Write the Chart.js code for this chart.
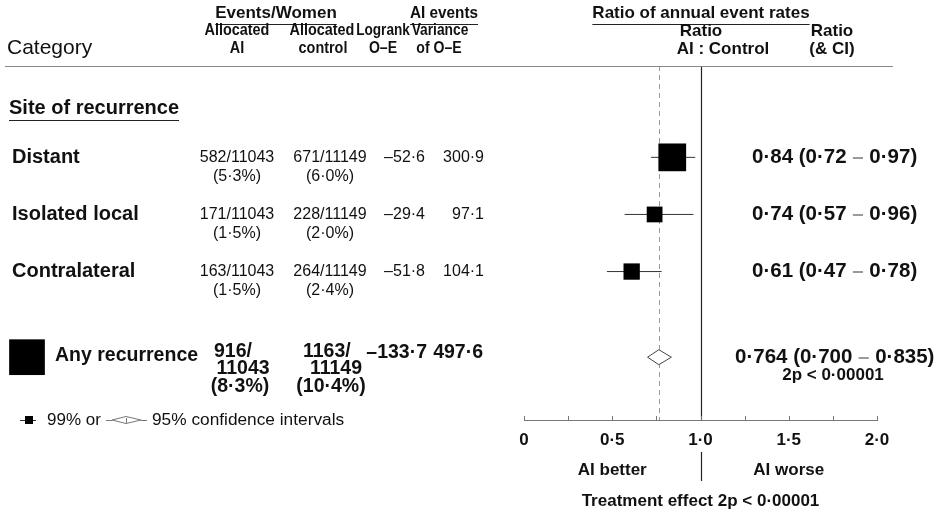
<!DOCTYPE html>
<html>
<head>
<meta charset="utf-8">
<script src="https://cdn.jsdelivr.net/npm/chart.js@4.4.1/dist/chart.umd.min.js"></script>
<style>
  html, body { margin: 0; padding: 0; background: #fff; }
  #wrap { width: 935px; height: 510px; position: relative; }
</style>
</head>
<body>
<div id="wrap"><canvas id="forest" width="935" height="510"></canvas></div>
<script>
// ---- Data: site of recurrence, AI vs control ----
const categories = ['Distant', 'Isolated local', 'Contralateral'];
const aiEvents = [582, 171, 163];
const aiWomen = [11043, 11043, 11043];
const controlEvents = [671, 228, 264];
const controlWomen = [11149, 11149, 11149];
const logrankOE = [-52.6, -29.4, -51.8];
const varianceOE = [300.9, 97.1, 104.1];
const ratio = [0.84, 0.74, 0.61];
const ciLow = [0.72, 0.57, 0.47];
const ciHigh = [0.97, 0.96, 0.78];
const rowPos = [1, 2, 3];

// Overall row
const totalLabel = ['Any recurrence'];
const totalAiEvents = [916];
const totalAiWomen = [11043];
const totalControlEvents = [1163];
const totalControlWomen = [11149];
const totalLogrankOE = [-133.7];
const totalVarianceOE = [497.6];
const totalRatio = [0.764];
const totalLow = [0.700];
const totalHigh = [0.835];
const totalPos = [4.5];
const totalP = ['2p < 0·00001'];
const treatmentP = ['Treatment effect 2p < 0·00001'];

// Axis
const xTickValues = [0, 0.5, 1, 1.5, 2];
const xTickLabels = ['0', '0·5', '1·0', '1·5', '2·0'];

// ---- helpers ----
const FAMILY = '"Liberation Sans", Arial, Helvetica, sans-serif';
const dot = (v, d) => Math.abs(v).toFixed(d).replace('.', '·');
const signed = (v, d) => (v < 0 ? '–' : '') + dot(v, d);
const pct = (e, n) => '(' + dot(100 * e / n, 1) + '%)';
const SQUARE_K = 1.6; // square side grows with sqrt(variance)

// draws text (optionally condensed horizontally by sx) and returns its width
function txt(ctx, s, x, y, o = {}) {
  const size = o.size || 16, weight = o.weight || 'normal', sx = o.sx || 1;
  ctx.save();
  ctx.font = `${weight} ${size}px ${FAMILY}`;
  ctx.fillStyle = o.color || '#111';
  ctx.textAlign = o.align || 'left';
  ctx.textBaseline = 'middle';
  ctx.translate(x, y);
  ctx.scale(sx, 1);
  ctx.fillText(s, 0, 0);
  const w = ctx.measureText(s).width * sx;
  ctx.restore();
  if (o.underline) {
    let x0 = x;
    const al = o.align || 'left';
    if (al === 'center') x0 = x - w / 2;
    else if (al === 'right') x0 = x - w;
    const uy = Math.round(y + size * 0.62) + 0.5;
    line(ctx, x0, uy, x0 + w, uy, '#222', 1);
  }
  return w;
}

// ratio text with a light dash between the limits
function ciText(ctx, r, lo, hi, d, x, y, size) {
  const opt = { size: size, weight: 'bold' };
  let cx = x;
  cx += txt(ctx, dot(r, d) + ' (' + dot(lo, d) + ' ', cx, y, opt);
  cx += txt(ctx, '–', cx, y, Object.assign({}, opt, { color: '#9a9a9a' }));
  txt(ctx, ' ' + dot(hi, d) + ')', cx, y, opt);
}

function line(ctx, x1, y1, x2, y2, color, w, dash) {
  ctx.save();
  ctx.strokeStyle = color;
  ctx.lineWidth = w;
  if (dash) ctx.setLineDash(dash);
  ctx.beginPath();
  ctx.moveTo(x1, y1);
  ctx.lineTo(x2, y2);
  ctx.stroke();
  ctx.restore();
}

// ---- plugin: reference lines, diamond, ticks, table text ----
const forestDecor = {
  id: 'forestDecor',
  beforeDatasetsDraw(chart) {
    const { ctx, chartArea: a, scales: { x } } = chart;
    const xo = Math.round(x.getPixelForValue(totalRatio[0])) + 0.5;
    line(ctx, xo, a.top, xo, a.bottom, '#9a9a9a', 1, [5, 4]);
    const x1 = Math.round(x.getPixelForValue(1)) + 0.5;
    line(ctx, x1, a.top, x1, a.bottom, '#222', 1.2);
  },
  afterDatasetsDraw(chart) {
    const { ctx, chartArea: a, scales: { x, y } } = chart;

    // overall diamond
    const yd = y.getPixelForValue(totalPos[0]);
    const xl = x.getPixelForValue(totalLow[0]);
    const xh = x.getPixelForValue(totalHigh[0]);
    const xm = x.getPixelForValue(totalRatio[0]);
    ctx.save();
    ctx.fillStyle = '#fff';
    ctx.strokeStyle = '#444';
    ctx.lineWidth = 1;
    ctx.beginPath();
    ctx.moveTo(xl, yd);
    ctx.lineTo(xm, yd - 7.5);
    ctx.lineTo(xh, yd);
    ctx.lineTo(xm, yd + 7.5);
    ctx.closePath();
    ctx.fill();
    ctx.stroke();
    ctx.restore();

    // small upward ticks on the axis
    x.ticks.forEach(t => {
      const px = Math.round(x.getPixelForValue(t.value)) + 0.5;
      line(ctx, px, a.bottom - 4, px, a.bottom, '#777', 1);
    });
  },
  afterDraw(chart) {
    const { ctx, chartArea: a, scales: { x, y } } = chart;

    // header
    const H = { size: 17, weight: 'bold', align: 'center' };
    const hc = sx => Object.assign({}, H, { size: 16, sx: sx });
    txt(ctx, 'Events/Women', 276, 13, Object.assign({ underline: true }, H));
    txt(ctx, 'AI events', 444, 13, Object.assign({ underline: true, sx: 0.9 }, H));
    txt(ctx, 'Ratio of annual event rates', 701, 13, Object.assign({ underline: true }, H));
    txt(ctx, 'Allocated', 237, 31, hc(0.9));
    txt(ctx, 'AI', 237, 49, hc(0.9));
    txt(ctx, 'Allocated', 322, 31, hc(0.9));
    txt(ctx, 'control', 323, 49, hc(0.9));
    txt(ctx, 'Logrank', 383, 31, hc(0.85));
    txt(ctx, 'O–E', 383, 49, hc(0.88));
    txt(ctx, 'Variance', 440, 31, hc(0.86));
    txt(ctx, 'of O–E', 439, 49, hc(0.88));
    txt(ctx, 'Ratio', 701, 31, H);
    txt(ctx, 'AI : Control', 723, 49, H);
    txt(ctx, 'Ratio', 832, 31, H);
    txt(ctx, '(& CI)', 832, 49, H);
    txt(ctx, 'Category', 7, 48, { size: 21 });
    line(ctx, 5, a.top + 0.5, 893, a.top + 0.5, '#888', 1);

    // section heading
    txt(ctx, 'Site of recurrence', 9, 108, { size: 20, weight: 'bold', underline: true });

    // subgroup rows
    categories.forEach((c, i) => {
      const py = y.getPixelForValue(rowPos[i]);
      txt(ctx, c, 12, py, { size: 20, weight: 'bold' });
      txt(ctx, aiEvents[i] + '/' + aiWomen[i], 237, py, { size: 16, align: 'center' });
      txt(ctx, pct(aiEvents[i], aiWomen[i]), 237, py + 19, { size: 16, align: 'center' });
      txt(ctx, controlEvents[i] + '/' + controlWomen[i], 330, py, { size: 16, align: 'center' });
      txt(ctx, pct(controlEvents[i], controlWomen[i]), 330, py + 19, { size: 16, align: 'center' });
      txt(ctx, signed(logrankOE[i], 1), 425, py, { size: 16, align: 'right' });
      txt(ctx, dot(varianceOE[i], 1), 484, py, { size: 16, align: 'right' });
      ciText(ctx, ratio[i], ciLow[i], ciHigh[i], 2, 752, py, 20.5);
    });

    // overall row
    const ty = y.getPixelForValue(totalPos[0]);
    const side = SQUARE_K * Math.sqrt(totalVarianceOE[0]);
    ctx.fillStyle = '#000';
    ctx.fillRect(27 - side / 2, ty - side / 2, side, side);
    const B = { size: 19.5, weight: 'bold' };
    txt(ctx, totalLabel[0], 55, ty - 2, B);
    txt(ctx, totalAiEvents[0] + '/', 214, ty - 6, B);
    txt(ctx, String(totalAiWomen[0]), 243, ty + 11, Object.assign({ align: 'center' }, B));
    txt(ctx, pct(totalAiEvents[0], totalAiWomen[0]), 240, ty + 29, Object.assign({ align: 'center' }, B));
    txt(ctx, totalControlEvents[0] + '/', 303, ty - 6, B);
    txt(ctx, String(totalControlWomen[0]), 336, ty + 11, Object.assign({ align: 'center' }, B));
    txt(ctx, pct(totalControlEvents[0], totalControlWomen[0]), 331, ty + 29, Object.assign({ align: 'center' }, B));
    txt(ctx, signed(totalLogrankOE[0], 1), 427, ty - 5, Object.assign({ align: 'right' }, B));
    txt(ctx, dot(totalVarianceOE[0], 1), 483, ty - 5, Object.assign({ align: 'right' }, B));
    ciText(ctx, totalRatio[0], totalLow[0], totalHigh[0], 3, 735, ty, 20.5);
    txt(ctx, totalP[0], 833, ty + 18, { size: 17, weight: 'bold', align: 'center' });

    // key
    const ky = a.bottom;
    line(ctx, 20, ky + 0.5, 36, ky + 0.5, '#333', 1);
    ctx.fillStyle = '#000';
    ctx.fillRect(25, ky - 4, 8, 8);
    txt(ctx, '99% or', 47, ky, { size: 17 });
    line(ctx, 106, ky + 0.5, 112, ky + 0.5, '#777', 1);
    line(ctx, 141, ky + 0.5, 147, ky + 0.5, '#777', 1);
    line(ctx, 126.5, ky - 2, 126.5, ky + 3, '#777', 1);
    ctx.save();
    ctx.strokeStyle = '#777';
    ctx.lineWidth = 1;
    ctx.beginPath();
    ctx.moveTo(112, ky);
    ctx.lineTo(126, ky - 3.5);
    ctx.lineTo(141, ky);
    ctx.lineTo(126, ky + 3.5);
    ctx.closePath();
    ctx.stroke();
    ctx.restore();
    txt(ctx, '95% confidence intervals', 152, ky, { size: 17.3 });

    // below the axis
    const x1 = Math.round(x.getPixelForValue(1)) + 0.5;
    line(ctx, x1, 452, x1, 481, '#222', 1.2);
    txt(ctx, 'AI better', x.getPixelForValue(0.5), 470, { size: 17, weight: 'bold', align: 'center' });
    txt(ctx, 'AI worse', x.getPixelForValue(1.5), 470, { size: 17, weight: 'bold', align: 'center' });
    txt(ctx, treatmentP[0], x.getPixelForValue(1), 501, { size: 17, weight: 'bold', align: 'center' });
  }
};

// ---- chart ----
const squares = {
  type: 'scatter',
  label: 'Ratio',
  data: categories.map((c, i) => ({ x: ratio[i], y: rowPos[i] })),
  pointStyle: 'rect',
  pointRadius: varianceOE.map(v => SQUARE_K * Math.sqrt(v) / Math.SQRT2),
  pointHoverRadius: varianceOE.map(v => SQUARE_K * Math.sqrt(v) / Math.SQRT2),
  backgroundColor: '#000',
  borderWidth: 0,
  order: 0
};
const ciLines = categories.map((c, i) => ({
  type: 'line',
  label: c + ' CI',
  data: [{ x: ciLow[i], y: rowPos[i] }, { x: ciHigh[i], y: rowPos[i] }],
  borderColor: '#333',
  borderWidth: 1,
  pointRadius: 0,
  fill: false,
  order: 1
}));

new Chart(document.getElementById('forest'), {
  type: 'scatter',
  data: { datasets: [squares].concat(ciLines) },
  options: {
    responsive: false,
    animation: false,
    devicePixelRatio: 1,
    layout: { padding: { left: 524, right: 58, top: 66, bottom: 0 } },
    plugins: { legend: { display: false }, tooltip: { enabled: false } },
    scales: {
      x: {
        type: 'linear',
        min: 0,
        max: 2,
        ticks: {
          stepSize: 0.25,
          autoSkip: false,
          maxRotation: 0,
          padding: 10,
          color: '#111',
          font: { family: FAMILY, size: 17, weight: 'bold' },
          callback: v => {
            const k = xTickValues.indexOf(v);
            return k >= 0 ? xTickLabels[k] : '';
          }
        },
        grid: { drawOnChartArea: false, drawTicks: false },
        border: { display: true, color: '#777', width: 1 },
        afterFit: s => { s.height = 90; }
      },
      y: {
        type: 'linear',
        min: -0.6,
        max: 5.6,
        reverse: true,
        display: false
      }
    }
  },
  plugins: [forestDecor]
});
</script>
</body>
</html>
